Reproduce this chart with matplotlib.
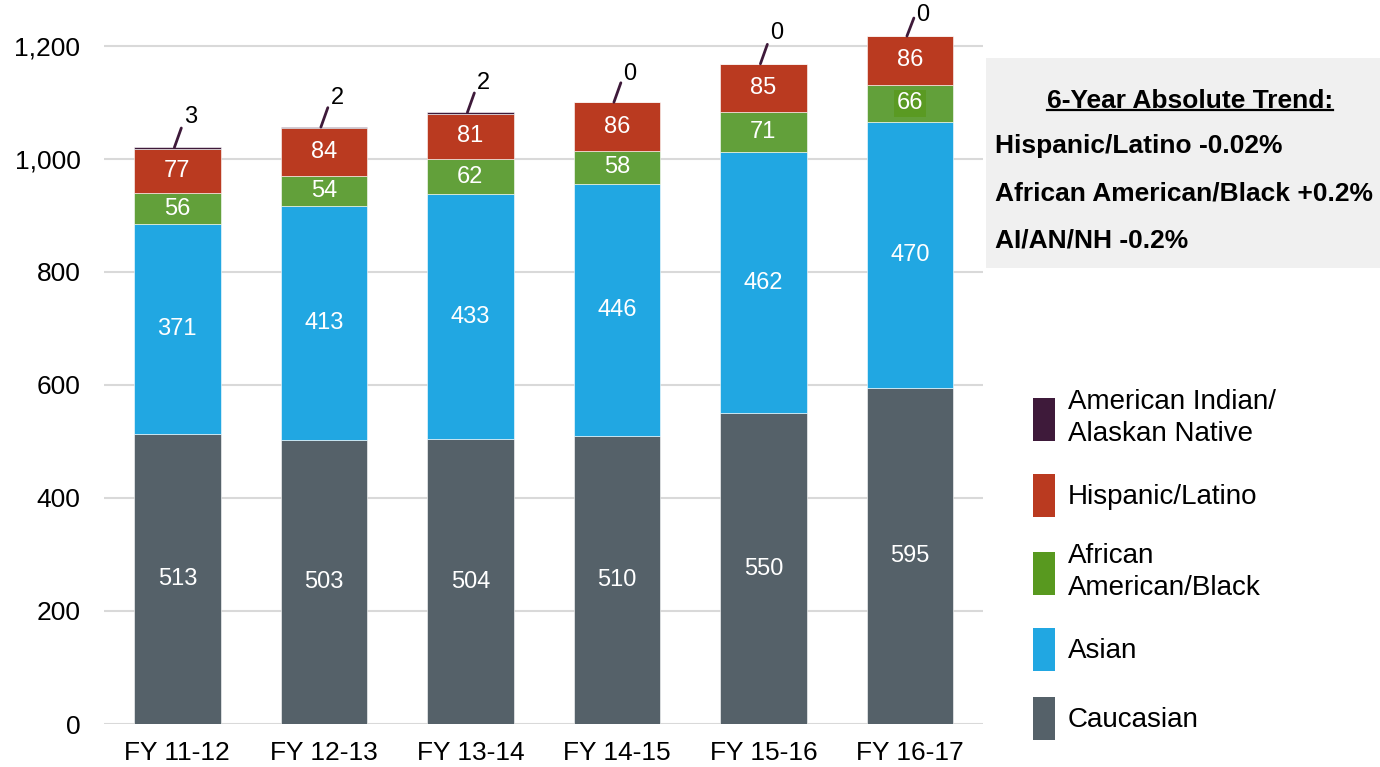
import matplotlib.pyplot as plt
import numpy as np
from matplotlib.lines import Line2D

plt.rcParams['font.family'] = ['Liberation Sans', 'DejaVu Sans']

# Enrollment by race/ethnicity per fiscal year
years = ['FY 11-12', 'FY 12-13', 'FY 13-14', 'FY 14-15', 'FY 15-16', 'FY 16-17']
caucasian = [513, 503, 504, 510, 550, 595]
asian = [371, 413, 433, 446, 462, 470]
african_american = [56, 54, 62, 58, 71, 66]
hispanic = [77, 84, 81, 86, 85, 86]
ai_an = [3, 2, 2, 0, 0, 0]

trend_title = '6-Year Absolute Trend:'
trend_lines = ['Hispanic/Latino -0.02%',
               'African American/Black +0.2%',
               'AI/AN/NH -0.2%']

colors = {
    'Caucasian': '#556169',
    'Asian': '#21a7e2',
    'African\nAmerican/Black': '#62a03a',
    'Hispanic/Latino': '#ba3a20',
    'American Indian/\nAlaskan Native': '#3e1a3a',
}

fig = plt.figure(figsize=(13.8, 7.67), dpi=100)
ax = fig.add_axes([0.0754, 0.056, 0.637, 0.936])

x = np.arange(len(years))
width = 0.59
series = [('Caucasian', caucasian), ('Asian', asian),
          ('African\nAmerican/Black', african_american),
          ('Hispanic/Latino', hispanic),
          ('American Indian/\nAlaskan Native', ai_an)]

bottom = np.zeros(len(years))
handles = {}
for name, vals in series:
    vals = np.array(vals, dtype=float)
    bars = ax.bar(x, vals, width, bottom=bottom, color=colors[name],
                  edgecolor='white', linewidth=0.4, zorder=3, label=name)
    handles[name] = bars
    if name != 'American Indian/\nAlaskan Native':
        for i, v in enumerate(vals):
            box = None
            if name == 'African\nAmerican/Black' and i == 5:
                box = dict(facecolor='#5a9a22', edgecolor='none', pad=2)
            ax.text(x[i], bottom[i] + v / 2, f'{int(v)}', ha='center', va='center',
                    color='white', fontsize=17, zorder=4, bbox=box)
    bottom += vals

# AI/AN counts sit above the stack with a short leader line
lift = [22, 21, 21, 20, 22, 15]
for i, v in enumerate(ai_an):
    tip = min(14, lift[i] - 2)
    ax.annotate('', xy=(x[i] - 0.02, bottom[i]), xytext=(5, tip),
                textcoords='offset points',
                arrowprops=dict(arrowstyle='-', color='#3e1a3a', lw=2,
                                shrinkA=0, shrinkB=0),
                annotation_clip=False, zorder=5)
    ax.annotate(f'{v}', xy=(x[i], bottom[i]), xytext=(9.5, lift[i]),
                textcoords='offset points', ha='center', va='center',
                fontsize=17, color='black', annotation_clip=False, zorder=5)

ax.set_xlim(-0.5, 5.5)
ax.set_ylim(0, 1270)
ax.set_yticks(range(0, 1201, 200))
ax.set_yticklabels([f'{v:,}' for v in range(0, 1201, 200)])
ax.set_xticks(x)
ax.set_xticklabels(years)
ax.tick_params(axis='both', length=0, labelsize=19)
ax.tick_params(axis='y', pad=17)
ax.tick_params(axis='x', pad=12)
ax.grid(axis='y', color='#d9d9d9', linewidth=1.5, zorder=0)
for s in ax.spines.values():
    s.set_visible(False)

# Trend note box
box_ax = fig.add_axes([986 / 1380, 1 - 268 / 767, (1380 - 986) / 1380, 210 / 767])
box_ax.set_facecolor('#f0f0f0')
box_ax.set_xticks([])
box_ax.set_yticks([])
for s in box_ax.spines.values():
    s.set_visible(False)

title = fig.text(1190 / 1380, 1 - 101 / 767, trend_title, ha='center', va='center',
                 fontsize=19, fontweight='bold')
for k, line in enumerate(trend_lines):
    fig.text(995 / 1380, 1 - (146 + 47.5 * k) / 767, line, ha='left', va='center',
             fontsize=19, fontweight='bold')

fig.canvas.draw()
bb = title.get_window_extent().transformed(fig.transFigure.inverted())
fig.add_artist(Line2D([bb.x0, bb.x1], [bb.y0 + 0.004, bb.y0 + 0.004],
                      color='black', lw=1.6, transform=fig.transFigure))

# Legend, top segment first
order = ['American Indian/\nAlaskan Native', 'Hispanic/Latino',
         'African\nAmerican/Black', 'Asian', 'Caucasian']
leg = fig.legend([handles[n] for n in order], order,
                 loc='upper left', bbox_to_anchor=(1033 / 1380, 1 - 389 / 767),
                 frameon=False, fontsize=20, handlelength=0.8, handleheight=2.0,
                 handletextpad=0.45, labelspacing=0.95, borderaxespad=0,
                 borderpad=0)
for p in leg.get_patches():
    p.set_edgecolor('none')
for t in leg.get_texts():
    t.set_linespacing(1.32)
leg.get_patches()[2].set_facecolor('#58991f')

fig.savefig('out.png', dpi=100)
